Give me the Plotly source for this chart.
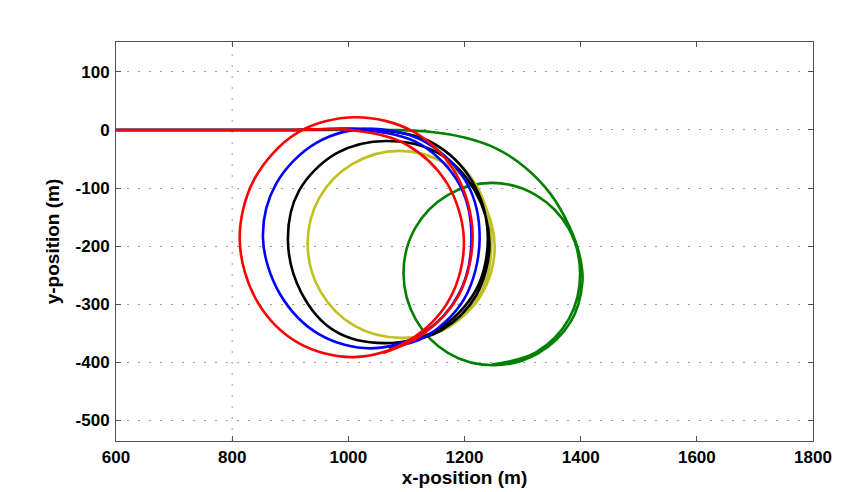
import plotly.graph_objects as go

# Ship track data (metres): straight approach along y = 0, then turning loops
green_x = [600, 900, 1080, 1140, 1200, 1255, 1305, 1348, 1380, 1398, 1403, 1383, 1326, 1250,
           1172, 1116, 1095, 1115, 1171, 1247, 1323, 1379, 1399, 1380, 1323, 1247]
green_y = [0, 0, 0, -3, -13, -32, -65, -110, -165, -215, -262, -330, -385, -405,
           -384, -326, -247, -169, -112, -91, -112, -169, -247, -325, -383, -404]

yellow_x = [600, 900, 1060, 1150, 1220, 1246, 1228, 1168, 1090, 1010, 952, 930, 950, 1008,
            1088, 1168, 1228, 1252, 1230, 1172, 1110]
yellow_y = [0, 0, 0, -25, -95, -188, -280, -340, -358, -337, -278, -198, -117, -58,
            -36, -58, -118, -200, -282, -340, -358]

black_x = [600, 900, 1050, 1145, 1213, 1240, 1220, 1152, 1062, 975, 919, 896, 915, 980,
           1066, 1155, 1218, 1243, 1220, 1160, 1095]
black_y = [0, 0, 0, -22, -88, -180, -275, -345, -367, -345, -280, -190, -105, -40,
           -19, -40, -105, -195, -285, -345, -366]

blue_x = [600, 900, 1030, 1125, 1192, 1212, 1190, 1128, 1040, 950, 882, 853, 876, 945,
          1038, 1135, 1205, 1226, 1200, 1135, 1070]
blue_y = [0, 0, 0, -25, -95, -188, -283, -350, -376, -352, -282, -185, -92, -22,
          2, -22, -93, -190, -290, -355, -375]

red_x = [600, 900, 1005, 1100, 1170, 1199, 1175, 1105, 1010, 913, 843, 813, 838, 912,
         1012, 1112, 1185, 1214, 1190, 1128, 1060]
red_y = [0, 0, 0, -25, -92, -190, -290, -362, -391, -366, -295, -190, -85, -5,
         22, -3, -75, -180, -285, -352, -384]

tracks = [
    (green_x, green_y, "rgb(0,128,0)"),
    (yellow_x, yellow_y, "rgb(192,192,32)"),
    (black_x, black_y, "rgb(0,0,0)"),
    (blue_x, blue_y, "rgb(0,0,255)"),
    (red_x, red_y, "rgb(255,0,0)"),
]

x_ticks = [600, 800, 1000, 1200, 1400, 1600, 1800]
y_ticks = [100, 0, -100, -200, -300, -400, -500]
x_grid = [800]

fig = go.Figure()
for xs, ys, col in tracks:
    fig.add_trace(go.Scatter(x=xs, y=ys, mode="lines",
                             line=dict(color=col, width=2.6, shape="spline", smoothing=1.0),
                             showlegend=False, hoverinfo="skip"))

grid_col = "rgb(160,160,160)"
grid_dash = "2px,9px"
for gx in x_grid:
    fig.add_vline(x=gx, line=dict(color=grid_col, width=1, dash=grid_dash), layer="below")

font_family = "Liberation Sans, Arial, sans-serif"
axis_common = dict(
    showline=True, linecolor="rgb(80,80,80)", linewidth=1, mirror="allticks",
    ticks="inside", ticklen=5, tickcolor="rgb(80,80,80)",
    tickfont=dict(family=font_family, size=17, color="black", weight="bold"),
    zeroline=False, automargin=False,
)

fig.update_xaxes(
    range=[600, 1800], tickvals=x_ticks, ticktext=[str(v) for v in x_ticks],
    showgrid=False, ticklabelstandoff=1,
    title=dict(text="x-position (m)", standoff=2,
               font=dict(family=font_family, size=19, color="black", weight="bold")),
    **axis_common,
)
fig.update_yaxes(
    range=[-535.5, 151.5], tickvals=y_ticks, ticktext=[str(v) for v in y_ticks],
    showgrid=True, gridcolor=grid_col, gridwidth=1, griddash=grid_dash,
    ticklabelstandoff=2,
    title=dict(text="y-position (m)", standoff=10,
               font=dict(family=font_family, size=19, color="black", weight="bold")),
    **axis_common,
)

fig.update_layout(
    width=863, height=492,
    margin=dict(l=116, r=50, t=42, b=51),
    paper_bgcolor="white", plot_bgcolor="white",
)

fig.write_html("out.html")
